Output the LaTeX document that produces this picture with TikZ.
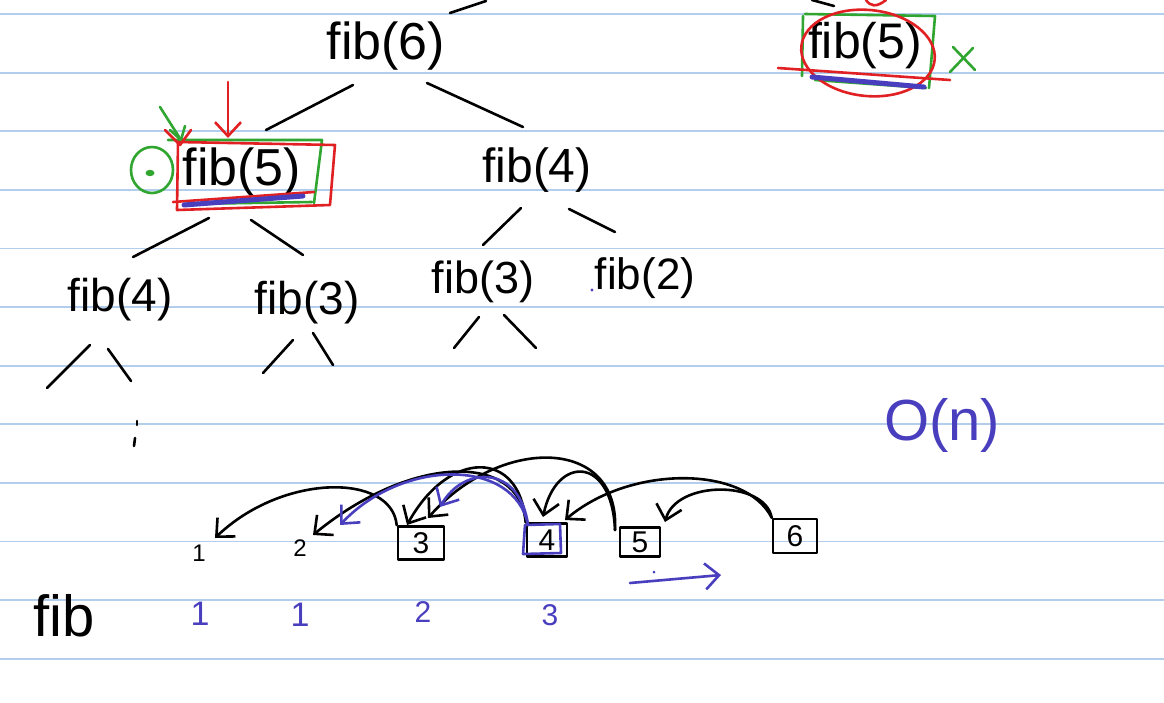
\documentclass[tikz,border=0pt]{standalone}
\usepackage{fontspec}
\setmainfont{Liberation Sans}
\usetikzlibrary{arrows.meta}
\definecolor{rulec}{RGB}{178,206,236}
\definecolor{pblue}{RGB}{72,62,190}
\definecolor{pred}{RGB}{225,32,36}
\definecolor{pgreen}{RGB}{48,165,48}
\begin{document}
\begin{tikzpicture}[x=1pt,y=-1pt,
  pen/.style={line width=2.6pt,line cap=round,line join=round},
  ink/.style={pen,black},
  bink/.style={pen,pblue},
  rink/.style={pen,pred},
  gink/.style={pen,pgreen},
  arr/.style={-{Straight Barb[length=14pt,width=26pt]}},
  tn/.style={inner sep=0pt,font=\fontsize{#1}{#1}\selectfont},
  tn/.default=48pt,
  nbox/.style={ink,draw,inner sep=0pt,font=\fontsize{30pt}{30pt}\selectfont},
  rulel/.style={rulec,line width=1.8pt}
]
% paper
\fill[white] (0,0) rectangle (1164,702);
\useasboundingbox (0,0) rectangle (1164,702);
\foreach \k in {0,...,11} {
  \draw[rulel] (0,{14+58.6*\k}) -- (1164,{14+58.6*\k});
}

% ---------- recursion tree ----------
\node[tn=52pt] (f6) at (386,46) {fib(6)};
\node[tn=52pt] (f5) at (242,172) {fib(5)};
\node[tn=48pt] (f4r) at (537,170) {fib(4)};
\node[tn=46pt] (f4l) at (120,300) {fib(4)};
\node[tn=46pt] (f3m) at (307,303) {fib(3)};
\node[tn=45pt] (f3r) at (483,282) {fib(3)};
\node[tn=44pt] (f2) at (645,278) {fib(2)};

\draw[ink] ([shift={(64,-33)}]f6.center) -- ([shift={(100,-45)}]f6.center);
\draw[ink] ([shift={(-33,39)}]f6.center) -- ([shift={(24,-42)}]f5.center);
\draw[ink] ([shift={(41,37)}]f6.center) -- ([shift={(-14,-43)}]f4r.center);
\draw[ink] ([shift={(-33,46)}]f5.center) -- ([shift={(13,-43)}]f4l.center);
\draw[ink] ([shift={(9,48)}]f5.center) -- ([shift={(-4,-48)}]f3m.center);
\draw[ink] ([shift={(-16,38)}]f4r.center) -- ([shift={(0,-37)}]f3r.center);
\draw[ink] ([shift={(32,39)}]f4r.center) -- ([shift={(-30,-46)}]f2.center);
\draw[ink] ([shift={(-4,35)}]f3r.center) -- ([shift={(-29,66)}]f3r.center);
\draw[ink] ([shift={(21,33)}]f3r.center) -- ([shift={(53,66)}]f3r.center);
\draw[ink] ([shift={(-14,37)}]f3m.center) -- ([shift={(-44,70)}]f3m.center);
\draw[ink] ([shift={(6,30)}]f3m.center) -- ([shift={(26,62)}]f3m.center);
\draw[ink] ([shift={(-30,45)}]f4l.center) -- ([shift={(-73,88)}]f4l.center);
\draw[ink] ([shift={(-12,49)}]f4l.center) -- ([shift={(11,81)}]f4l.center);
% vertical dots
\draw[ink] (137,421) -- (137,425);
\draw[ink] (135,438) -- (134,446);
% tiny blue dot near fib(2)
\fill[pblue] ([shift={(-53,12)}]f2.center) circle (1.6pt);

% marks on fib(5)
\draw[gink] (168,140) -- (322,140) -- (314,203);
\draw[gink] (185,204) -- (312,202);
\draw[rink] (178,142) -- (335,145) -- (330,205) -- (177,210) -- cycle;
\draw[rink] (173,202) -- (314,192);
\draw[pblue,line width=5pt,line cap=round] (184,205) -- (303,196);
\draw[rink,arr] (228,82) -- (228,138);
\draw[gink] (160,107) -- (181,140);
\draw[gink] (170,130) -- (181,140) -- (185,126);
\draw[rink] (165,130) -- (180,145) -- (191,130);
\draw[gink] (152,170) ellipse (21pt and 23pt);
\fill[pgreen] (150,173) ellipse (4.5pt and 3.2pt);

% ---------- top right fib(5) ----------
\node[tn=50pt] (f5r) at (865,46) {fib(5)};
\draw[ink] (812,0) -- (834,6);
\draw[gink] (805,14) -- (935,16) -- (929,88);
\draw[gink] (803,16) -- (802,76);
\draw[gink] (815,80) -- (926,88);
\draw[rink,rotate around={-6:(868,53)}] (868,53) ellipse (67pt and 43pt);
\draw[rink] (778,68) -- (950,80);
\draw[pblue,line width=5pt,line cap=round] (812,77) -- (924,87);
\draw[rink] (866,0) .. controls (870,6) and (876,8) .. (886,0);
\draw[gink] (953,47) -- (975,70);
\draw[gink] (950,72) -- (973,48);

% ---------- complexity ----------
\node[inner sep=0pt,text=pblue,font=\fontsize{58pt}{58pt}\selectfont,anchor=base] (on) at (942,440) {O(n)};

% ---------- bottom: bottom-up table ----------
\node[inner sep=0pt,font=\fontsize{24pt}{24pt}\selectfont] (n1) at (199,553) {1};
\node[inner sep=0pt,font=\fontsize{24pt}{24pt}\selectfont] (n2) at (300,548) {2};
\node[nbox,minimum width=46pt,minimum height=33pt] (b3) at (421,543) {3};
\node[nbox,minimum width=40pt,minimum height=33pt] (b4) at (547,540) {4};
\draw[bink] (525,525) -- (560,524) -- (561,553) -- (523,554) -- cycle;
\node[nbox,minimum width=40pt,minimum height=29pt] (b5) at (640,542) {5};
\node[nbox,minimum width=44pt,minimum height=34pt] (b6) at (795,536) {6};

% dependency arcs
\draw[ink,arr] (b3.north west) .. controls (392,473) and (283,473) .. ([shift={(16,-15)}]n1.center);
\draw[ink,arr] (b4.north west) .. controls (520,453) and (413,453) .. ([shift={(13,-13)}]n2.center);
\draw[ink,arr] (b4.north west) .. controls (520,449) and (449,449) .. ([shift={(-14,-18)}]b3.center);
\draw[ink,arr] ([shift={(-25,-12)}]b5.center) .. controls (620,436) and (500,436) .. ([shift={(7,-25)}]b3.center);
\draw[ink,arr] ([shift={(-25,-12)}]b5.center) .. controls (612,455) and (556,455) .. ([shift={(-4,-23)}]b4.center);
\draw[ink,arr] (b6.north west) .. controls (745,465) and (630,465) .. ([shift={(18,-20)}]b4.center);
\draw[ink,arr] (b6.north west) .. controls (765,480) and (676,480) .. ([shift={(25,-20)}]b5.center);
\draw[bink,arr] ([shift={(-19,-15)}]b4.center) .. controls (515,458) and (403,458) .. ([shift={(40,-23)}]n2.center);
\draw[bink,arr] ([shift={(-19,-15)}]b4.center) .. controls (520,465) and (464,465) .. ([shift={(19,-36)}]b3.center);

% direction arrow
\draw[bink,arr] (630,583) -- (721,575);
\fill[pblue] (654,572) circle (1.5pt);

% fib row
\node[inner sep=0pt,font=\fontsize{58pt}{58pt}\selectfont,anchor=base] (fl) at (64,636) {fib};
\node[inner sep=0pt,text=pblue,font=\fontsize{34pt}{34pt}\selectfont,anchor=base] (v1) at (200,625) {1};
\node[inner sep=0pt,text=pblue,font=\fontsize{34pt}{34pt}\selectfont,anchor=base] (v2) at (300,626) {1};
\node[inner sep=0pt,text=pblue,font=\fontsize{30pt}{30pt}\selectfont,anchor=base] (v3) at (423,622) {2};
\node[inner sep=0pt,text=pblue,font=\fontsize{30pt}{30pt}\selectfont,anchor=base] (v4) at (550,625) {3};
\end{tikzpicture}
\end{document}
